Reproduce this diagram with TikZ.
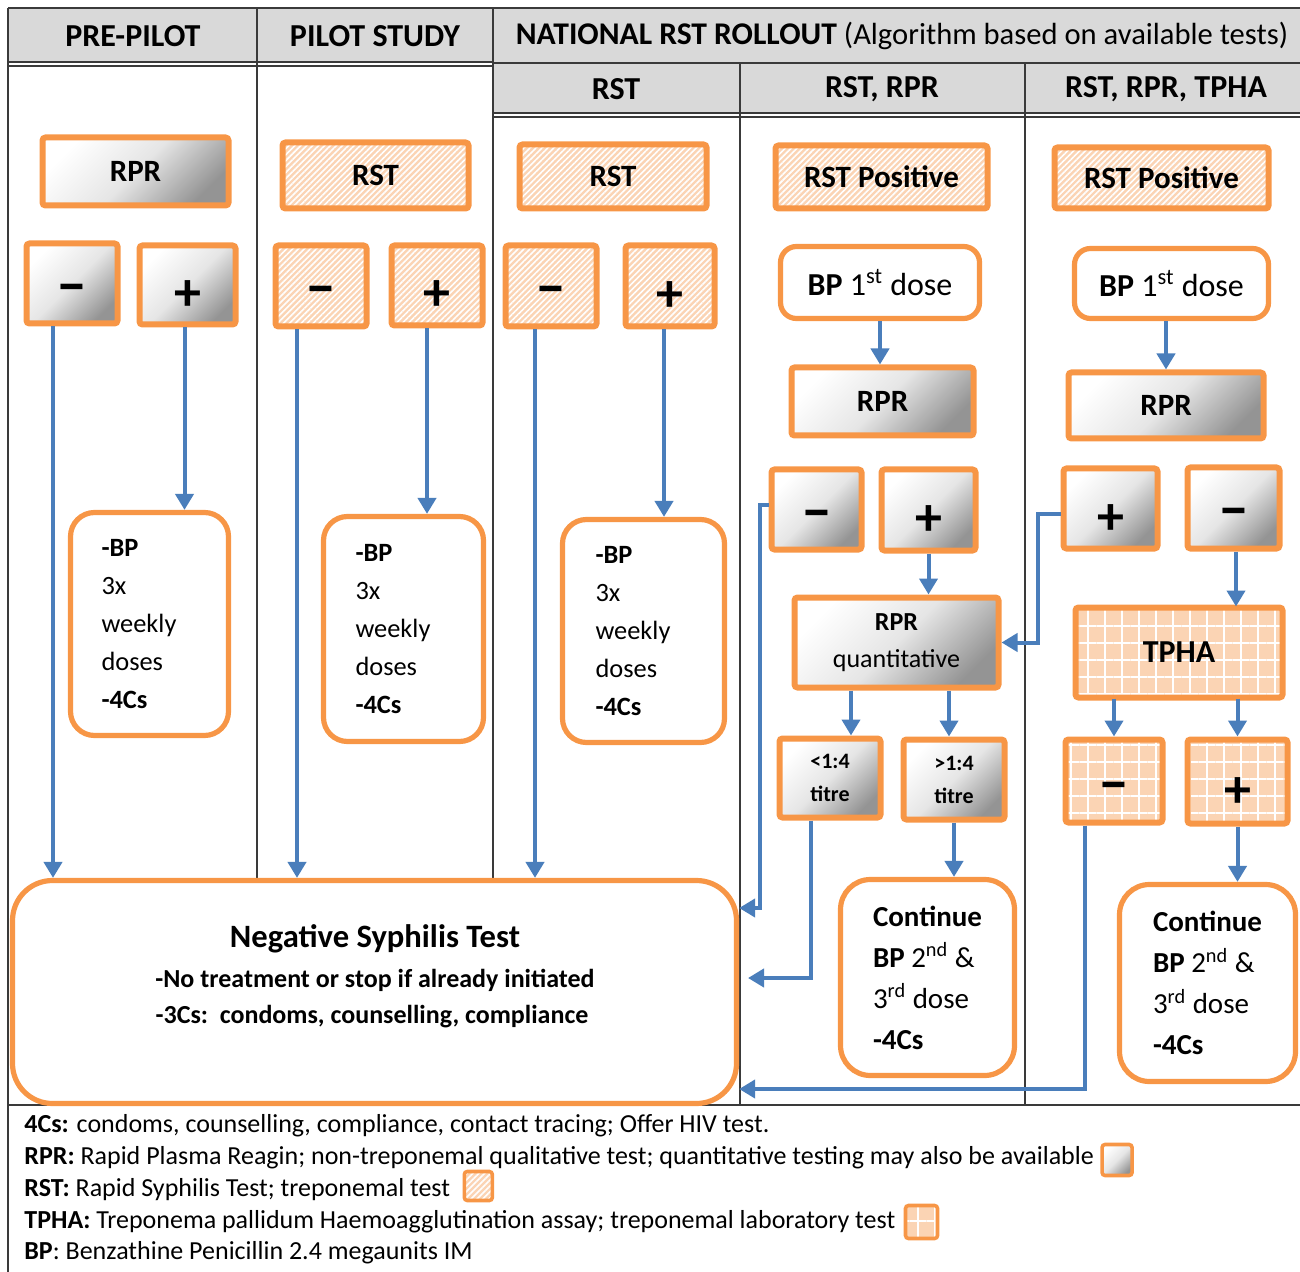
\documentclass[tikz,border=0pt]{standalone}
\usepackage{fontspec}
\usepackage{graphicx}
\setmainfont{Carlito}
\usetikzlibrary{arrows.meta,patterns.meta}
\definecolor{org}{HTML}{F79646}
\definecolor{blu}{HTML}{4A7EBB}
\definecolor{peach}{HTML}{FBD4B4}
\definecolor{hdrgray}{HTML}{D9D9D9}
\definecolor{tlc}{HTML}{3A3A3A}
\newcommand{\mns}{{\fontsize{31}{31}\selectfont\bfseries\raisebox{0pt}[21pt][0pt]{–}}}
\newcommand{\pls}{{\fontsize{27}{27}\selectfont\bfseries\raisebox{0pt}[25.5pt][0pt]{+}}}
\tikzset{
  sz/.style 2 args={minimum width=(#1-5)*0.5pt, minimum height=(#2-5)*0.5pt},
  box/.style={draw=org, line width=3pt, rounded corners=1.5pt, inner sep=0pt,
    font=\bfseries\fontsize{15.5}{18}\selectfont},
  graybox/.style={box, top color=white, bottom color=black!42, middle color=black!10, shading angle=45},
  hatchbox/.style={box, preaction={fill=peach}, pattern={Lines[angle=45,distance=2.1pt,line width=0.8pt]}, pattern color=white},
  gridbox/.style={box, preaction={fill=peach}, pattern={Hatch[angle=0,distance=8.5pt,line width=1pt]}, pattern color=white},
  rbox/.style={draw=org, line width=2.6pt, fill=white, rounded corners=12pt, inner sep=0pt},
  arr/.style={draw=blu, line width=2pt, -{Triangle[width=9pt,length=8pt]}},
  tline/.style={draw=tlc, line width=0.8pt},
  hdr/.style={font=\bfseries\fontsize{16}{19}\selectfont},
  bptext/.style={align=left, text width=48pt, font=\fontsize{13.2}{19}\selectfont},
  conttext/.style={align=left, font=\fontsize{14.5}{20.5}\selectfont},
  legend/.style={anchor=west, inner sep=0pt, font=\fontsize{13}{15}\selectfont}
}
\begin{document}
\begin{tikzpicture}[x=0.5pt,y=-0.5pt]
\useasboundingbox (0,0) rectangle (1300,1272);
% ---------- table ----------
\fill[hdrgray] (8,8) rectangle (1300,62);
\fill[hdrgray] (493,64) rectangle (1300,113);
\draw[tline] (8,8) -- (1300,8);
\draw[tline] (8,8) -- (8,1272);
\draw[tline] (8,62) -- (493,62);
\draw[tline] (8,66) -- (493,66);
\draw[tline] (493,63) -- (1300,63);
\draw[tline] (493,113) -- (1300,113);
\draw[tline] (493,117) -- (1300,117);
\draw[tline] (257,8) -- (257,1105);
\draw[tline] (493,8) -- (493,1105);
\draw[tline] (740,63) -- (740,1105);
\draw[tline] (1025,63) -- (1025,1105);
\draw[tline] (8,1105) -- (1300,1105);
% headers
\node[hdr] (h1) at (133,36) {PRE-PILOT};
\node[hdr] (h2) at (375,36) {PILOT STUDY};
\node[hdr, font=\bfseries\fontsize{15.8}{19}\selectfont] (h3) at (902,36) {NATIONAL RST ROLLOUT {\mdseries\fontsize{15.3}{19}\selectfont (Algorithm based on available tests)}};
\node[hdr] (h4) at (616,89) {RST};
\node[hdr] (h5) at (882,89) {RST, RPR};
\node[hdr] (h6) at (1166,89) {RST, RPR, TPHA};
% ---------- negative box ----------
\node[rbox, rounded corners=20pt, sz={729}{228}] (neg) at (374.5,992) {};
\node[font=\bfseries\fontsize{16.3}{19}\selectfont] (negt1) at (375,939) {Negative Syphilis Test};
\node[font=\bfseries\fontsize{13}{15}\selectfont] (negt2) at (375,980) {-No treatment or stop if already initiated};
\node[font=\bfseries\fontsize{13}{15}\selectfont] (negt3) at (372,1017) {-3Cs:\ \ condoms, counselling, compliance};
% ---------- pre-pilot ----------
\node[graybox, sz={191}{73}] (rpr1) at (135.5,171.5) {RPR};
\node[graybox, sz={96}{85}] (m1) at (72,283.5) {\mns};
\node[graybox, sz={101}{84}] (p1) at (187.5,285) {\pls};
\node[rbox, bptext, sz={163}{228}] (bp1) at (149.5,624) {\textbf{-BP}\\3x\\weekly\\doses\\\textbf{-4Cs}};
% ---------- pilot ----------
\node[hatchbox, sz={191}{71}] (rst2) at (375.5,175.5) {RST};
\node[hatchbox, sz={96}{86}] (m2) at (321,286) {\mns};
\node[hatchbox, sz={96}{85}] (p2) at (437,285.5) {\pls};
\node[rbox, bptext, sz={165}{230}] (bp2) at (403.5,629) {\textbf{-BP}\\3x\\weekly\\doses\\\textbf{-4Cs}};
% ---------- RST ----------
\node[hatchbox, sz={192}{69}] (rst3) at (613,176.5) {RST};
\node[hatchbox, sz={96}{86}] (m3) at (551,286) {\mns};
\node[hatchbox, sz={94}{86}] (p3) at (670,286) {\pls};
\node[rbox, bptext, sz={167}{228}] (bp3) at (643.5,631) {\textbf{-BP}\\3x\\weekly\\doses\\\textbf{-4Cs}};
% ---------- RST, RPR ----------
\node[hatchbox, sz={217}{68}] (rsta) at (881.5,177) {RST Positive};
\node[rbox, rounded corners=8pt, font=\fontsize{16}{19}\selectfont, sz={204}{77}] (bpa) at (880,282.5) {\textbf{BP} 1\textsuperscript{st} dose};
\node[graybox, sz={187}{73}] (rpra) at (882.5,401.5) {RPR};
\node[graybox, sz={95}{85}] (ma) at (816.5,509.5) {\mns};
\node[graybox, sz={99}{86}] (pa) at (928.5,510) {\pls};
\node[graybox, align=center, font=\fontsize{13}{18.5}\selectfont, sz={209}{95}] (rprq) at (896.5,642.5) {\textbf{RPR}\\quantitative};
\node[graybox, align=center, font=\bfseries\fontsize{11}{16.5}\selectfont, sz={106}{84}] (lt) at (830,778) {<1:4\\titre};
\node[graybox, align=center, font=\bfseries\fontsize{11}{16.5}\selectfont, sz={106}{85}] (gt) at (954,779.5) {>1:4\\titre};
\node[rbox, rounded corners=15pt, conttext, sz={179}{201}] (conta) at (927.5,977.5) {\textbf{Continue}\\\textbf{BP} 2\textsuperscript{nd} \&\\3\textsuperscript{rd} dose\\\textbf{-4Cs}};
% ---------- RST, RPR, TPHA ----------
\node[hatchbox, sz={219}{66}] (rstb) at (1161.5,178) {RST Positive};
\node[rbox, rounded corners=8pt, font=\fontsize{16}{19}\selectfont, sz={199}{75}] (bpb) at (1171.5,283.5) {\textbf{BP} 1\textsuperscript{st} dose};
\node[graybox, sz={200}{71}] (rprb) at (1166,405.5) {RPR};
\node[graybox, sz={99}{85}] (pb) at (1110.5,508.5) {\pls};
\node[graybox, sz={97}{86}] (mb) at (1233.5,508) {\mns};
\node[gridbox, font=\bfseries\fontsize{16}{19}\selectfont, sz={212}{95}] (tpha) at (1179,652.5) {TPHA};
\node[gridbox, sz={102}{88}] (tm) at (1114,781) {\mns};
\node[gridbox, sz={105}{89}] (tp) at (1237.5,781.5) {\pls};
\node[rbox, rounded corners=15pt, conttext, sz={181}{202}] (contb) at (1207.5,983) {\textbf{Continue}\\\textbf{BP} 2\textsuperscript{nd} \&\\3\textsuperscript{rd} dose\\\textbf{-4Cs}};
% ---------- connectors ----------
\coordinate (a1) at ([xshift=-9.5pt]m1.south);
\draw[arr] (a1) -- (a1 |- neg.north);
\coordinate (a2) at ([xshift=-1.5pt]p1.south);
\draw[arr] (a2) -- (a2 |- bp1.north);
\coordinate (a3) at ([xshift=-12pt]m2.south);
\draw[arr] (a3) -- (a3 |- neg.north);
\coordinate (a4) at ([xshift=-5pt]p2.south);
\draw[arr] (a4) -- (a4 |- bp2.north);
\coordinate (a5) at ([xshift=-8pt]m3.south);
\draw[arr] (a5) -- (a5 |- neg.north);
\coordinate (a6) at ([xshift=-3pt]p3.south);
\draw[arr] (a6) -- (a6 |- bp3.north);
\draw[arr] (bpa.south) -- (bpa.south |- rpra.north);
\draw[arr] (pa.south) -- (pa.south |- rprq.north);
\coordinate (a9) at ([xshift=-22.75pt]rprq.south);
\draw[arr] (a9) -- (a9 |- lt.north);
\coordinate (a10) at ([xshift=26.25pt]rprq.south);
\draw[arr] (a10) -- (a10 |- gt.north);
\draw[arr] (gt.south) -- (gt.south |- conta.north);
\coordinate (c1) at (760,908);
\draw[arr] ([yshift=2pt]ma.west) -- ([yshift=2pt]ma.west -| c1) -- (c1) -- (c1 -| neg.east);
\coordinate (c2) at (811,978);
\coordinate (e2) at (748,978);
\draw[arr] (lt.south -| c2) -- (c2) -- (e2);
\draw[arr] (bpb.south -| rprb.north) -- (rprb.north);
\coordinate (c3) at (1038,640);
\draw[arr] ([yshift=-3pt]pb.west) -- ([yshift=-3pt]pb.west -| c3) |- (rprq.east);
\coordinate (a16) at ([xshift=1.25pt]mb.south);
\draw[arr] (a16) -- (a16 |- tpha.north);
\coordinate (a17) at (tm.north |- tpha.south);
\draw[arr] (a17) -- (tm.north);
\coordinate (a18) at (tp.north |- tpha.south);
\draw[arr] (a18) -- (tp.north);
\coordinate (c4) at (1085,1089);
\draw[arr] (tm.south -| c4) -- (c4) -- (c4 -| neg.east);
\draw[arr] (tp.south) -- (tp.south |- contb.north);
% ---------- legend ----------
\node[legend] (l1) at (24,1126) {\textbf{4Cs:} condoms, counselling, compliance, contact tracing; Offer HIV test.};
\node[legend] (l2) at (24,1158) {\textbf{RPR:} Rapid Plasma Reagin; non-treponemal qualitative test; quantitative testing may also be available};
\node[legend] (l3) at (24,1190) {\textbf{RST:} Rapid Syphilis Test; treponemal test};
\node[legend] (l4) at (24,1222) {\textbf{TPHA:} Treponema pallidum Haemoagglutination assay; treponemal laboratory test};
\node[legend] (l5) at (24,1253) {\textbf{BP}: Benzathine Penicillin 2.4 megaunits IM};
\node[graybox, line width=1.8pt, minimum width=15pt, minimum height=15.5pt, anchor=west] (s1) at ([xshift=3pt,yshift=-1pt]l2.east) {};
\node[hatchbox, line width=1.8pt, minimum width=14pt, minimum height=14.5pt, anchor=west] (s2) at ([xshift=6pt,yshift=2pt]l3.east) {};
\node[gridbox, line width=1.8pt, minimum width=16pt, minimum height=16.5pt, anchor=west] (s3) at ([xshift=4pt]l4.east) {};
\end{tikzpicture}
\end{document}
